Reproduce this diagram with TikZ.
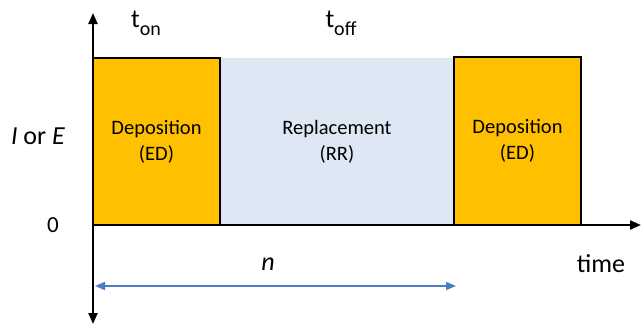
\documentclass[tikz,border=0pt]{standalone}
\usepackage{fontspec}
\setmainfont{Carlito}
\usetikzlibrary{arrows.meta}
\definecolor{depo}{HTML}{FFC000}
\definecolor{repl}{HTML}{DEE8F5}
\definecolor{arrblue}{HTML}{4A7EC4}
\tikzset{
  axis/.style={line width=2.2pt, -{Triangle[length=11pt,width=9pt]}},
  depbox/.style={draw=black, line width=2pt, fill=depo, minimum width=127pt, minimum height=167pt, inner sep=0pt, align=center, font=\fontsize{20.5}{26}\selectfont},
  replbox/.style={fill=repl, minimum width=234pt, minimum height=167pt, inner sep=0pt, align=center, font=\fontsize{20.5}{26}\selectfont},
  lbl/.style={inner sep=0pt, font=\fontsize{26}{28}\selectfont},
  span/.style={draw=arrblue, line width=1.6pt, {Triangle[length=10pt,width=8pt]}-{Triangle[length=10pt,width=8pt]}},
}
\newcommand{\tsub}[1]{t\raisebox{-0.3em}{\fontsize{20}{20}\selectfont #1}}
\begin{document}
\begin{tikzpicture}[x=1pt,y=-1pt]
\useasboundingbox (0,0) rectangle (641,325);
\node[replbox] (rr) at (337,141.5) {Replacement\\(RR)};
\node[depbox] (ed1) at (156.5,141.5) {Deposition\\(ED)};
\node[depbox, minimum height=168pt] (ed2) at (517.5,141) {Deposition\\(ED)};
\coordinate (o) at (93,225);
\coordinate (ytop) at (93,13);
\coordinate (ybot) at (93,324);
\coordinate (xend) at (641,225);
\draw[axis] (o) -- (ytop);
\draw[axis] (o) -- (ybot);
\draw[axis] (o) -- (xend);
\coordinate (sl) at (95,286);
\coordinate (sr) at (456,286);
\draw[span] (sl) -- (sr);
\node[lbl] (ton) at (146,23) {\tsub{on}};
\node[lbl] (toff) at (341,23) {\tsub{off}};
\node[lbl] (ie) at (38,136) {\textit{I} or \textit{E}};
\node[lbl, font=\fontsize{23}{26}\selectfont] (zero) at (53,225) {0};
\node[lbl] (time) at (601,264) {time};
\node[lbl] (n) at (268,264) {\textit{n}};
\end{tikzpicture}
\end{document}
